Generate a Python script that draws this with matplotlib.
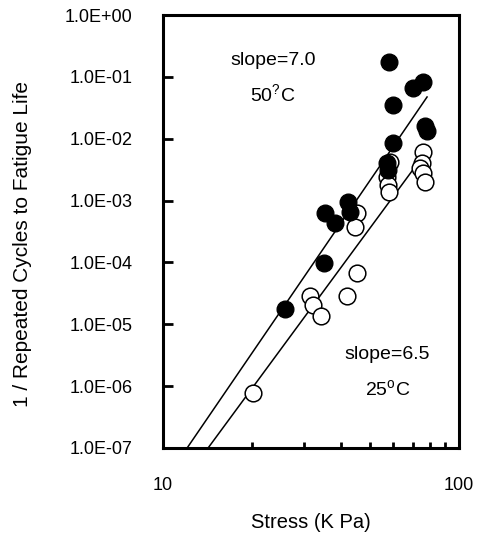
import matplotlib
matplotlib.use('Agg')
import matplotlib.pyplot as plt
import matplotlib.ticker as mticker
import numpy as np

plt.rcParams['font.family'] = ['Liberation Sans', 'DejaVu Sans']
plt.rcParams['mathtext.fontset'] = 'custom'
plt.rcParams['mathtext.rm'] = 'Liberation Sans'

# 50 C test results (filled circles)
stress_50 = [58.0, 69.9, 75.6, 59.8, 76.8, 78.0, 59.8, 57.1, 57.6,
             35.3, 38.1, 42.2, 42.8, 35.0, 25.8]
inv_life_50 = [0.174, 0.066, 0.083, 0.035, 0.0161, 0.0133, 0.0085, 0.00405, 0.00312,
               6.3e-4, 4.34e-4, 9.5e-4, 6.5e-4, 9.8e-5, 1.77e-5]

# 25 C test results (open circles)
stress_25 = [58.5, 57.1, 57.6, 58.0, 75.6, 75.0, 73.8, 75.6, 76.8,
             45.2, 44.5, 45.2, 41.8, 31.4, 32.1, 34.2, 20.1]
inv_life_25 = [0.0042, 0.0024, 0.00179, 0.00138, 0.0061, 0.00405, 0.00336, 0.00279, 0.0020,
               6.3e-4, 3.74e-4, 6.7e-5, 2.87e-5, 2.87e-5, 2.05e-5, 1.36e-5, 7.7e-7]

# power law fits: log10(1/N) = log_a + slope * log10(stress)
slope_50, log_a_50 = 7.0, -14.57
slope_25, log_a_25 = 6.5, -14.49
fit_range_50 = [11.0, 78.0]
fit_range_25 = [13.0, 75.5]

y_ticks = [1e0, 1e-1, 1e-2, 1e-3, 1e-4, 1e-5, 1e-6, 1e-7]
y_tick_labels = ['1.0E+00', '1.0E-01', '1.0E-02', '1.0E-03',
                 '1.0E-04', '1.0E-05', '1.0E-06', '1.0E-07']
x_ticks = [10, 100]
x_tick_labels = ['10', '100']

fig = plt.figure(figsize=(4.8, 5.36), dpi=100)
ax = fig.add_axes([163 / 480, 1 - 448 / 536, 296 / 480, 433 / 536])

# fitted lines
s = np.array(fit_range_50)
ax.plot(s, 10 ** (log_a_50 + slope_50 * np.log10(s)), color='black', lw=1.1)
s = np.array(fit_range_25)
ax.plot(s, 10 ** (log_a_25 + slope_25 * np.log10(s)), color='black', lw=1.1)

# data points
ax.plot(stress_25, inv_life_25, 'o', ms=12, mfc='white', mec='black', mew=1.1, ls='none')
ax.plot(stress_50, inv_life_50, 'o', ms=12, mfc='black', mec='black', ls='none')

ax.set_xscale('log')
ax.set_yscale('log')
ax.set_xlim(10, 100)
ax.set_ylim(1e-7, 1e0)

ax.yaxis.set_major_locator(mticker.FixedLocator(y_ticks))
ax.yaxis.set_major_formatter(mticker.FixedFormatter(y_tick_labels))
ax.yaxis.set_minor_locator(mticker.NullLocator())
ax.xaxis.set_major_locator(mticker.FixedLocator(x_ticks))
ax.xaxis.set_major_formatter(mticker.FixedFormatter(x_tick_labels))
ax.xaxis.set_minor_locator(mticker.LogLocator(base=10, subs=np.arange(2, 10)))
ax.xaxis.set_minor_formatter(mticker.NullFormatter())

ax.tick_params(axis='y', which='major', direction='in', length=7, width=2, pad=22, labelsize=13)
ax.tick_params(axis='x', which='major', direction='in', length=0, pad=21, labelsize=13)
ax.tick_params(axis='x', which='minor', direction='in', length=4, width=2)

for sp in ax.spines.values():
    sp.set_linewidth(2.2)

ax.set_xlabel('Stress (K Pa)', fontsize=14.5)
ax.xaxis.set_label_coords(0.5, -(522 - 448) / 433)
ax.xaxis.label.set_verticalalignment('center')
ax.set_ylabel('1 / Repeated Cycles to Fatigue Life', fontsize=15)
ax.yaxis.set_label_coords(-(163 - 23) / 296, 0.47)
ax.yaxis.label.set_verticalalignment('center')

# annotations
ax.text(0.372, 0.896, 'slope=7.0', transform=ax.transAxes, ha='center', va='center', fontsize=14)
ax.text(0.372, 0.815, r'50$^{?}$C', transform=ax.transAxes, ha='center', va='center', fontsize=14)
ax.text(0.757, 0.215, 'slope=6.5', transform=ax.transAxes, ha='center', va='center', fontsize=14)
ax.text(0.760, 0.134, r'25$^{\mathrm{o}}$C', transform=ax.transAxes, ha='center', va='center', fontsize=14)

fig.savefig('out.png', dpi=100)
